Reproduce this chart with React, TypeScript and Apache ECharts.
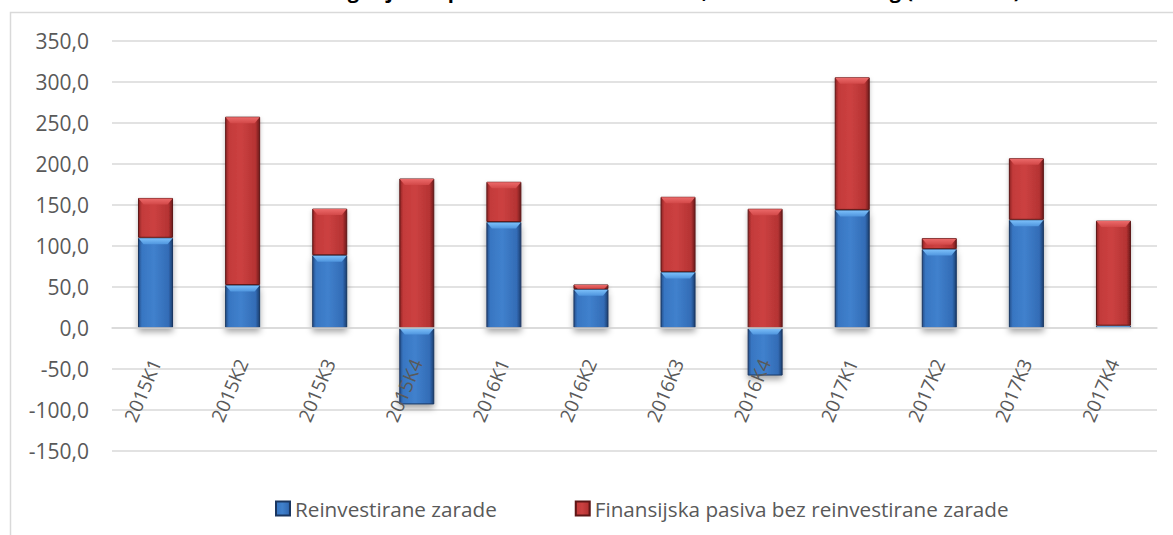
import React, { useEffect, useRef } from "react";
import * as echarts from "echarts";

const titleText = "Grafikon 12. Kategorija SDI po osnovnim elementima, ostvareni neto dug (u mil. EUR)";
const categories = ["2015K1", "2015K2", "2015K3", "2015K4", "2016K1", "2016K2", "2016K3", "2016K4", "2017K1", "2017K2", "2017K3", "2017K4"];
const seriesNames = ["Reinvestirane zarade", "Finansijska pasiva bez reinvestirane zarade"];
const reinvested = [110, 52.4, 88.8, -93.2, 129.2, 47.4, 68.4, -58, 144, 96.2, 131.9, 2.8];
const otherLiabilities = [48.6, 205.3, 56.8, 182.3, 49.1, 5.7, 91.6, 145.4, 161.7, 13.4, 75.1, 128.2];
const yTicks = { min: -150, max: 350, interval: 50 };

const FONT = '"Open Sans", "Noto Sans", sans-serif';
const BAR_W = 35;
const GRID = { left: 112, right: 16, top: 41, bottom: 84 };
const H = 535;

function hGrad(stops: [number, string][]) {
  return new echarts.graphic.LinearGradient(0, 0, 1, 0, stops.map(([offset, color]) => ({ offset, color })));
}
function vGrad(stops: [number, string][]) {
  return new echarts.graphic.LinearGradient(0, 0, 0, 1, stops.map(([offset, color]) => ({ offset, color })));
}

// upper edge of each segment (for bevel highlight)
const blueUpper = reinvested.map((v) => Math.max(v, 0));
const redUpper = otherLiabilities.map((v, i) => Math.max(reinvested[i], 0) + v);
const bevelData: [number, number, number][] = [
  ...blueUpper.map((v, i) => [i, v, 0] as [number, number, number]),
  ...redUpper.map((v, i) => [i, v, 1] as [number, number, number]),
];

export default function App() {
  const ref = useRef<HTMLDivElement>(null);
  useEffect(() => {
    if (!ref.current) return;
    const chart = echarts.init(ref.current, null, { renderer: "svg" });
    const blue = hGrad([
      [0, "#24508C"],
      [0.1, "#3876C2"],
      [0.45, "#4081CD"],
      [0.88, "#336CB6"],
      [1, "#1C3F70"],
    ]);
    const red = hGrad([
      [0, "#8E2424"],
      [0.1, "#C33A3A"],
      [0.45, "#CC4141"],
      [0.88, "#B53333"],
      [1, "#6E1B1B"],
    ]);
    const bevelFill = [
      vGrad([
        [0, "#7CC0FA"],
        [1, "#4F95DE"],
      ]),
      vGrad([
        [0, "#EC6A6A"],
        [1, "#D24848"],
      ]),
    ];
    const plotH = H - GRID.top - GRID.bottom;
    const zeroOffset = (plotH * (0 - yTicks.min)) / (yTicks.max - yTicks.min);
    chart.setOption({
      animation: false,
      backgroundColor: "#FFFFFF",
      textStyle: { fontFamily: FONT },
      graphic: [
        {
          type: "rect",
          z: -10,
          shape: { x: 10.5, y: 12.5, width: 1300, height: 700 },
          style: { fill: "none", stroke: "#D9D9D9", lineWidth: 1.5 },
        },
        {
          type: "text",
          x: 598,
          y: 0,
          style: {
            text: titleText,
            align: "center",
            verticalAlign: "bottom",
            fontSize: 20,
            fontWeight: "bold",
            fontFamily: FONT,
            fill: "#000000",
          },
        },
      ],
      grid: { ...GRID, containLabel: false, outerBoundsMode: "none" },
      legend: {
        left: 275,
        top: 498,
        padding: 0,
        itemWidth: 14,
        itemHeight: 14,
        itemGap: 78,
        icon: "rect",
        textStyle: { fontSize: 20.7, color: "#595959", fontFamily: FONT },
        data: seriesNames,
      },
      xAxis: {
        type: "category",
        data: categories,
        offset: -zeroOffset,
        z: 10,
        axisLine: { onZero: false, lineStyle: { color: "#D9D9D9", width: 1.5 } },
        axisTick: { show: false },
        axisLabel: {
          rotate: 67,
          margin: 32,
          fontSize: 19,
          color: "#595959",
          fontFamily: FONT,
        },
      },
      yAxis: {
        type: "value",
        min: yTicks.min,
        max: yTicks.max,
        interval: yTicks.interval,
        axisLine: { show: false },
        axisTick: { show: false },
        splitLine: { lineStyle: { color: "#D9D9D9", width: 1.5 } },
        axisLabel: {
          margin: 23,
          fontSize: 21,
          color: "#595959",
          fontFamily: FONT,
          formatter: (v: number) => v.toFixed(1).replace(".", ","),
        },
      },
      series: [
        {
          name: seriesNames[0],
          type: "bar",
          stack: "total",
          data: reinvested,
          barWidth: BAR_W,
          z: 2,
          itemStyle: {
            color: blue,
            borderColor: "#1A3660",
            borderWidth: 1,
            shadowColor: "rgba(0,0,0,0.35)",
            shadowBlur: 6,
            shadowOffsetY: 4,
          },
        },
        {
          name: seriesNames[1],
          type: "bar",
          stack: "total",
          data: otherLiabilities,
          barWidth: BAR_W,
          z: 2,
          itemStyle: {
            color: red,
            borderColor: "#5E1616",
            borderWidth: 1,
            shadowColor: "rgba(0,0,0,0.25)",
            shadowBlur: 4,
            shadowOffsetY: 2,
          },
        },
        {
          name: "bevel",
          type: "custom",
          z: 3,
          silent: true,
          data: bevelData,
          encode: { x: 0, y: 1 },
          renderItem: (params: any, api: any) => {
            const idx = api.value(0);
            const val = api.value(1);
            const kind = api.value(2);
            const seg = kind === 0 ? reinvested[idx] : otherLiabilities[idx];
            const p = api.coord([idx, val]);
            const pLow = api.coord([idx, val - Math.abs(seg)]);
            const segH = Math.abs(pLow[1] - p[1]);
            const bh = Math.min(6, Math.max(segH - 1, 0));
            if (bh <= 0.5) return null;
            const half = BAR_W / 2 - 0.5;
            const inset = Math.min(5, bh);
            const x = p[0];
            const y = p[1] + 0.5;
            return {
              type: "polygon",
              shape: {
                points: [
                  [x - half, y],
                  [x + half, y],
                  [x + half - inset, y + bh],
                  [x - half + inset, y + bh],
                ],
              },
              style: { fill: bevelFill[kind] },
            };
          },
        },
      ],
    });
    return () => chart.dispose();
  }, []);
  return <div ref={ref} style={{ position: "fixed", left: 0, top: 0, width: 1173, height: 535 }} />;
}
